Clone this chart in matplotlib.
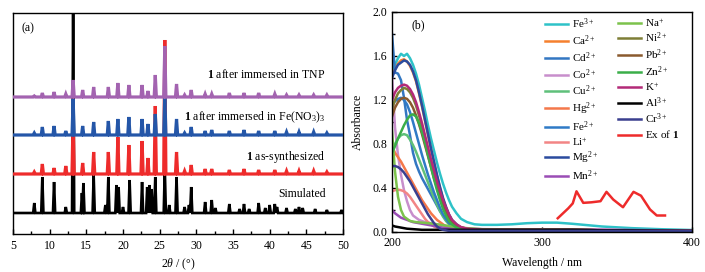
import matplotlib
matplotlib.use("Agg")
import matplotlib.pyplot as plt
from matplotlib.ticker import MultipleLocator, FormatStrFormatter

plt.rcParams['font.family'] = ['Liberation Serif', 'DejaVu Serif']
plt.rcParams['mathtext.fontset'] = 'custom'
plt.rcParams['mathtext.rm'] = 'Liberation Serif'
plt.rcParams['mathtext.it'] = 'Liberation Serif:italic'
plt.rcParams['mathtext.bf'] = 'Liberation Serif:bold'

# ---------------- (a) PXRD data: peak positions (2theta) and heights ----------------
sim_pos = [7.9, 9.0, 10.6, 12.2, 13.2, 14.4, 14.6, 16.0, 17.6, 18.0, 19.1, 19.4, 20.0, 20.9,
           22.6, 23.3, 23.6, 23.9, 24.4, 25.7, 26.3, 27.3, 28.4, 29.0, 29.3, 31.2, 32.1, 32.6,
           34.5, 35.9, 36.5, 37.2, 38.5, 39.4, 40.0, 40.7, 41.0, 42.3, 43.5, 44.0, 44.5, 46.2,
           47.8, 49.8]
sim_h = [10, 36, 31, 6, 200, 20, 30, 38, 8, 36, 28, 26, 6, 33,
         31, 26, 28, 24, 36, 45, 8, 36, 6, 8, 26, 11, 13, 5,
         9, 4, 9, 4, 10, 5, 8, 9, 6, 5, 4, 6, 5, 4,
         3, 3]

exp_pos = [7.9, 9.0, 10.6, 12.2, 13.2, 14.5, 16.0, 18.0, 19.3, 20.8, 22.6, 23.4, 24.4, 25.7,
           27.3, 28.4, 29.3, 31.2, 32.1, 34.5, 36.5, 38.5, 40.7, 42.3, 44.0, 46.0, 47.8]
syn_h = [2, 10, 6, 8, 60, 11, 22, 22, 37, 29, 33, 16, 68, 134,
         22, 3, 9, 5, 5, 4, 5, 4, 4, 3, 3, 3, 2]
fe_h = [2, 8, 9, 4, 36, 9, 13, 14, 16, 18, 16, 11, 21, 40,
        16, 2, 8, 4, 5, 4, 5, 4, 4, 3, 3, 3, 2]
tnp_h = [1, 4, 5, 3, 17, 7, 10, 10, 14, 12, 12, 6, 22, 51,
         13, 2, 7, 3, 3, 4, 4, 4, 3, 2, 2, 2, 2]

offsets = [21, 60, 99, 137]
xrd_labels = ["Simulated", r"$\mathbf{1}$ as-synthesized",
              r"$\mathbf{1}$ after immersed in Fe(NO$_3$)$_3$",
              r"$\mathbf{1}$ after immersed in TNP"]
xrd_label_y = [40, 77, 117, 160]
xrd_colors = ["black", "#EE2B2B", "#2456A8", "#A363B0"]

# ---------------- (b) UV-vis data ----------------
wl = [200, 202, 204, 206, 208, 210, 212, 214, 216, 218, 220, 222, 224, 226, 228, 230, 232, 234,
      236, 238, 240, 243, 246, 250, 255, 260, 270, 280, 290, 300, 310, 320, 340, 360, 380, 400]

fe3 = [1.45, 1.52, 1.58, 1.62, 1.60, 1.62, 1.58, 1.52, 1.44, 1.34, 1.22, 1.10, 0.97, 0.85, 0.74, 0.63, 0.53, 0.44,
       0.36, 0.29, 0.23, 0.17, 0.12, 0.09, 0.07, 0.065, 0.065, 0.07, 0.08, 0.085, 0.085, 0.075, 0.05, 0.035, 0.025, 0.018]
ca = [1.42, 1.48, 1.53, 1.56, 1.57, 1.55, 1.51, 1.45, 1.37, 1.26, 1.14, 1.01, 0.88, 0.75, 0.63, 0.51, 0.40, 0.30,
      0.22, 0.15, 0.10, 0.06, 0.04, 0.03, 0.025, 0.02, 0.02, 0.02, 0.02, 0.02, 0.02, 0.02, 0.015, 0.015, 0.012, 0.01]
cd = [1.80, 1.45, 1.44, 1.38, 1.22, 1.02, 0.88, 0.72, 0.62, 0.55, 0.49, 0.44, 0.39, 0.34, 0.29, 0.24, 0.19, 0.15,
      0.11, 0.08, 0.06, 0.04, 0.03, 0.02, 0.02, 0.02, 0.02, 0.02, 0.02, 0.02, 0.02, 0.02, 0.015, 0.015, 0.012, 0.01]
co = [1.42, 0.95, 0.70, 0.52, 0.38, 0.28, 0.20, 0.15, 0.13, 0.11, 0.10, 0.09, 0.085, 0.08, 0.075, 0.07, 0.065, 0.06,
      0.055, 0.05, 0.045, 0.04, 0.035, 0.03, 0.03, 0.025, 0.025, 0.022, 0.02, 0.02, 0.02, 0.02, 0.018, 0.016, 0.014, 0.012]
cu = [0.75, 0.80, 0.85, 0.88, 0.89, 0.88, 0.84, 0.79, 0.73, 0.66, 0.59, 0.52, 0.45, 0.38, 0.31, 0.25, 0.19, 0.14,
      0.10, 0.07, 0.05, 0.04, 0.03, 0.02, 0.02, 0.02, 0.02, 0.02, 0.02, 0.02, 0.02, 0.02, 0.015, 0.015, 0.012, 0.01]
hg = [0.78, 0.72, 0.68, 0.64, 0.59, 0.54, 0.49, 0.44, 0.39, 0.34, 0.29, 0.25, 0.21, 0.17, 0.14, 0.11, 0.09, 0.07,
      0.05, 0.04, 0.03, 0.025, 0.02, 0.02, 0.02, 0.02, 0.02, 0.02, 0.02, 0.02, 0.02, 0.02, 0.015, 0.015, 0.012, 0.01]
fe2 = [1.15, 1.19, 1.21, 1.22, 1.20, 1.16, 1.09, 1.00, 0.90, 0.80, 0.70, 0.61, 0.52, 0.44, 0.36, 0.29, 0.22, 0.16,
       0.12, 0.08, 0.06, 0.04, 0.03, 0.02, 0.02, 0.02, 0.02, 0.02, 0.02, 0.02, 0.02, 0.02, 0.015, 0.015, 0.012, 0.01]
li = [0.37, 0.38, 0.385, 0.38, 0.37, 0.35, 0.32, 0.28, 0.24, 0.20, 0.16, 0.12, 0.09, 0.07, 0.05, 0.04, 0.03, 0.025,
      0.02, 0.02, 0.02, 0.02, 0.02, 0.02, 0.02, 0.02, 0.02, 0.02, 0.02, 0.02, 0.02, 0.02, 0.015, 0.015, 0.012, 0.01]
mg = [1.40, 1.47, 1.52, 1.54, 1.56, 1.55, 1.52, 1.46, 1.38, 1.27, 1.15, 1.02, 0.89, 0.76, 0.64, 0.52, 0.41, 0.31,
      0.23, 0.16, 0.11, 0.07, 0.04, 0.03, 0.02, 0.02, 0.02, 0.02, 0.02, 0.02, 0.02, 0.02, 0.015, 0.015, 0.012, 0.01]
mn = [0.20, 0.17, 0.15, 0.13, 0.12, 0.11, 0.10, 0.09, 0.085, 0.08, 0.075, 0.07, 0.065, 0.06, 0.055, 0.05, 0.045, 0.04,
      0.037, 0.035, 0.033, 0.03, 0.03, 0.028, 0.027, 0.026, 0.025, 0.025, 0.024, 0.024, 0.023, 0.022, 0.02, 0.018, 0.016, 0.014]
na = [0.92, 0.55, 0.32, 0.20, 0.14, 0.12, 0.10, 0.095, 0.09, 0.088, 0.085, 0.083, 0.08, 0.078, 0.075, 0.07, 0.066, 0.062,
      0.058, 0.054, 0.05, 0.045, 0.04, 0.035, 0.03, 0.025, 0.02, 0.02, 0.02, 0.02, 0.02, 0.02, 0.015, 0.015, 0.012, 0.01]
ni = [1.12, 1.20, 1.26, 1.29, 1.31, 1.30, 1.27, 1.22, 1.15, 1.06, 0.96, 0.85, 0.74, 0.63, 0.53, 0.43, 0.34, 0.26,
      0.19, 0.14, 0.09, 0.06, 0.04, 0.03, 0.02, 0.02, 0.02, 0.02, 0.02, 0.02, 0.02, 0.02, 0.015, 0.015, 0.012, 0.01]
pb = [1.05, 1.13, 1.18, 1.21, 1.22, 1.21, 1.18, 1.13, 1.06, 0.98, 0.89, 0.79, 0.69, 0.59, 0.49, 0.40, 0.31, 0.24,
      0.17, 0.12, 0.08, 0.05, 0.03, 0.02, 0.02, 0.02, 0.02, 0.02, 0.02, 0.02, 0.02, 0.02, 0.015, 0.015, 0.012, 0.01]
zn = [0.72, 0.78, 0.85, 0.91, 0.97, 1.02, 1.06, 1.07, 1.05, 0.99, 0.91, 0.81, 0.70, 0.59, 0.48, 0.38, 0.29, 0.21,
      0.15, 0.10, 0.07, 0.04, 0.03, 0.02, 0.02, 0.02, 0.02, 0.02, 0.02, 0.02, 0.02, 0.02, 0.015, 0.015, 0.012, 0.01]
k = [1.20, 1.27, 1.31, 1.33, 1.34, 1.33, 1.30, 1.25, 1.18, 1.09, 0.99, 0.88, 0.77, 0.66, 0.56, 0.46, 0.37, 0.29,
     0.22, 0.16, 0.11, 0.07, 0.045, 0.03, 0.025, 0.02, 0.02, 0.02, 0.02, 0.02, 0.02, 0.02, 0.018, 0.016, 0.014, 0.012]
al = [0.06, 0.05, 0.045, 0.04, 0.035, 0.03, 0.028, 0.026, 0.024, 0.022, 0.02, 0.02, 0.02, 0.02, 0.02, 0.02, 0.02, 0.02,
      0.02, 0.02, 0.02, 0.02, 0.02, 0.02, 0.02, 0.02, 0.02, 0.02, 0.02, 0.02, 0.02, 0.02, 0.015, 0.015, 0.012, 0.01]
cr = [0.60, 0.60, 0.59, 0.57, 0.54, 0.50, 0.46, 0.41, 0.36, 0.31, 0.26, 0.21, 0.16, 0.12, 0.08, 0.05, 0.03, 0.02,
      0.015, 0.01, 0.01, 0.01, 0.01, 0.01, 0.01, 0.01, 0.01, 0.01, 0.01, 0.01, 0.01, 0.01, 0.01, 0.01, 0.01, 0.01]

ex_wl = [310.5, 317.5, 320.5, 323, 327.5, 333, 339, 343, 347.5, 354, 361, 366, 372, 376.5, 382]
ex_abs = [0.125, 0.215, 0.26, 0.37, 0.265, 0.27, 0.28, 0.365, 0.295, 0.225, 0.365, 0.33, 0.205, 0.15, 0.15]

ion_labels = [r"Fe$^{3+}$", r"Ca$^{2+}$", r"Cd$^{2+}$", r"Co$^{2+}$", r"Cu$^{2+}$", r"Hg$^{2+}$",
              r"Fe$^{2+}$", r"Li$^{+}$", r"Mg$^{2+}$", r"Mn$^{2+}$", r"Na$^{+}$", r"Ni$^{2+}$",
              r"Pb$^{2+}$", r"Zn$^{2+}$", r"K$^{+}$", r"Al$^{3+}$", r"Cr$^{3+}$"]
ion_data = [fe3, ca, cd, co, cu, hg, fe2, li, mg, mn, na, ni, pb, zn, k, al, cr]
ion_colors = ["#2EC2C8", "#F5802E", "#3377C2", "#C88ECC", "#5FC07A", "#F4784A",
              "#2F7AC6", "#F28585", "#2A4B9E", "#9A4DB5", "#7CC24C", "#7E7E36",
              "#8A5A2E", "#3BAE49", "#B32A78", "#000000", "#3A3F8F"]

# ---------------- figure ----------------
fig = plt.figure(figsize=(7.05, 2.72), dpi=100)
ax1 = fig.add_axes([13 / 705, 38 / 272, 330 / 705, 221 / 272])
ax2 = fig.add_axes([392 / 705, 40 / 272, 300 / 705, 220 / 272])

def trace(pos, hts, base, w=0.15):
    xs = [5.0]
    ys = [base]
    for p, hh in zip(pos, hts):
        xs += [p - w, p, p + w]
        ys += [base, base + hh, base]
    xs.append(50.0)
    ys.append(base)
    return xs, ys

series = [(sim_pos, sim_h), (exp_pos, syn_h), (exp_pos, fe_h), (exp_pos, tnp_h)]
for i, ((pos, hts), off, col) in enumerate(zip(series, offsets, xrd_colors)):
    xs, ys = trace(pos, hts, off)
    ax1.plot(xs, ys, color=col, lw=1.9 if i == 0 else 2.3, zorder=2 + i, solid_joinstyle='miter')
for lab, yy in zip(xrd_labels, xrd_label_y):
    ax1.text(47.6, yy, lab, ha='right', va='center', fontsize=8.5)
ax1.text(6.2, 206, "(a)", ha='left', va='center', fontsize=8.5)

ax1.set_xlim(5, 50)
ax1.set_ylim(0, 221)
ax1.set_yticks([])
ax1.xaxis.set_major_locator(MultipleLocator(5))
ax1.xaxis.set_minor_locator(MultipleLocator(2.5))
ax1.tick_params(axis='x', which='major', direction='in', length=3.5, width=1, labelsize=8.5, pad=4)
ax1.tick_params(axis='x', which='minor', direction='in', length=2.5, width=1)
ax1.set_xlabel(r"2$\mathit{\theta}$ / (°)", fontsize=8.5)
ax1.xaxis.set_label_coords(0.5, -0.10)

for lab, d, col in zip(ion_labels, ion_data, ion_colors):
    ax2.plot(wl, d, color=col, lw=1.8, label=lab)
ax2.plot(ex_wl, ex_abs, color="#EE2B2B", lw=1.8, label=r"Ex of $\mathbf{1}$")

ax2.set_xlim(200, 400)
ax2.set_ylim(0, 2.0)
ax2.xaxis.set_major_locator(MultipleLocator(100))
ax2.yaxis.set_major_locator(MultipleLocator(0.4))
ax2.yaxis.set_minor_locator(MultipleLocator(0.2))
ax2.yaxis.set_major_formatter(FormatStrFormatter('%.1f'))
ax2.tick_params(which='major', direction='in', length=3.5, width=1, labelsize=8.5)
ax2.tick_params(which='minor', direction='in', length=2.5, width=1)
ax2.set_xlabel("Wavelength / nm", fontsize=8.5)
ax2.set_ylabel("Absorbance", fontsize=8.5)
ax2.xaxis.set_label_coords(0.5, -0.115)
ax2.yaxis.set_label_coords(-0.095, 0.5)
ax2.text(213, 1.88, "(b)", ha='left', va='center', fontsize=8.5)

handles, labels = ax2.get_legend_handles_labels()
kw = dict(loc='upper left', frameon=False, fontsize=8, handlelength=2.1, handletextpad=0.3,
          labelspacing=0.19, borderpad=0, borderaxespad=0)
leg1 = ax2.legend(handles[:10], labels[:10], bbox_to_anchor=(0.51, 0.978), **kw)
ax2.add_artist(leg1)
ax2.legend(handles[10:], labels[10:], bbox_to_anchor=(0.753, 0.978), **kw)

for ax in (ax1, ax2):
    for s in ax.spines.values():
        s.set_linewidth(1.0)

fig.savefig("out.png", dpi=100)
